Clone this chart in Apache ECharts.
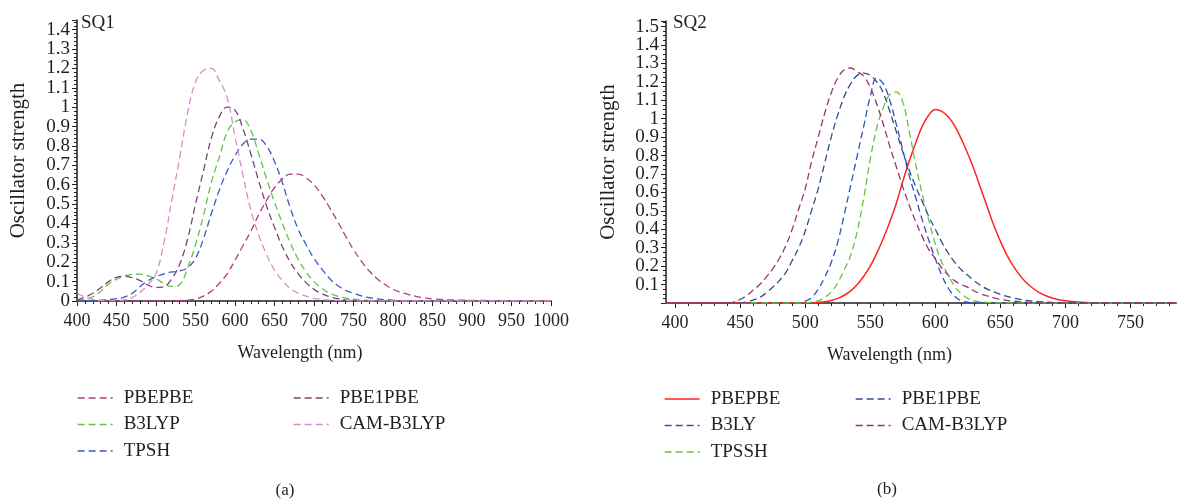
<!DOCTYPE html>
<html>
<head>
<meta charset="utf-8">
<script src="https://cdn.jsdelivr.net/npm/echarts@6/dist/echarts.min.js"></script>
<style>
html,body{margin:0;padding:0;background:#fff;}
#chartA{position:absolute;left:0;top:0;width:590px;height:500px;}
#chartB{position:absolute;left:590px;top:0;width:587px;height:500px;}
</style>
</head>
<body>
<div id="chartA"></div>
<div id="chartB"></div>
<script>
// ---------- Panel (a): SQ1 ----------
const wavelengthsA = [400,410,420,430,440,450,460,470,480,490,500,510,520,530,540,550,560,570,580,590,600,610,620,630,640,650,660,670,680,690,700,710,720,730,740,750,760,770,780,790,800,810,820,830,840,850,860,870,880,890,900,910,920,930,940,950,960,970,980,990,1000];
const pbepbeA = [0,0,0,0,0,0,0,0,0,0,0,0.001,0.001,0.002,0.004,0.01,0.025,0.05,0.09,0.14,0.21,0.285,0.36,0.445,0.52,0.585,0.63,0.655,0.655,0.635,0.6,0.545,0.48,0.41,0.335,0.265,0.205,0.155,0.115,0.085,0.06,0.045,0.033,0.023,0.016,0.011,0.008,0.006,0.005,0.004,0.003,0.003,0.002,0.002,0.002,0.001,0.001,0.001,0.001,0.001,0.001];
const pbe1pbeA = [0.005,0.02,0.04,0.068,0.1,0.122,0.127,0.12,0.105,0.082,0.07,0.074,0.115,0.19,0.32,0.5,0.67,0.84,0.95,1.0,0.985,0.89,0.76,0.62,0.49,0.38,0.28,0.2,0.14,0.095,0.06,0.038,0.022,0.012,0.006,0.003,0.001,0,0,0,0,0,0,0,0,0,0,0,0,0,0,0,0,0,0,0,0,0,0,0,0];
const b3lypA = [0.002,0.008,0.022,0.05,0.088,0.112,0.13,0.137,0.139,0.13,0.115,0.09,0.075,0.085,0.17,0.29,0.44,0.61,0.74,0.87,0.925,0.935,0.88,0.76,0.63,0.51,0.4,0.3,0.215,0.15,0.1,0.065,0.04,0.025,0.015,0.009,0.005,0.003,0.001,0,0,0,0,0,0,0,0,0,0,0,0,0,0,0,0,0,0,0,0,0,0];
const tpshA = [0,0.001,0.002,0.004,0.007,0.012,0.02,0.04,0.075,0.105,0.125,0.14,0.15,0.155,0.172,0.22,0.32,0.45,0.57,0.67,0.75,0.81,0.835,0.835,0.8,0.72,0.61,0.48,0.37,0.29,0.22,0.165,0.115,0.08,0.055,0.04,0.026,0.017,0.011,0.007,0.004,0.002,0.001,0,0,0,0,0,0,0,0,0,0,0,0,0,0,0,0,0,0];
const camb3lypA = [0.04,0.02,0.008,0.002,0.001,0.002,0.006,0.018,0.045,0.085,0.14,0.3,0.52,0.74,0.97,1.13,1.19,1.2,1.14,1.05,0.85,0.65,0.47,0.34,0.24,0.16,0.105,0.065,0.04,0.025,0.014,0.008,0.005,0.003,0.002,0.001,0,0,0,0,0,0,0,0,0,0,0,0,0,0,0,0,0,0,0,0,0,0,0,0,0];

// ---------- Panel (b): SQ2 ----------
const wavelengthsB = [390,395,400,405,410,415,420,425,430,435,440,445,450,455,460,465,470,475,480,485,490,495,500,505,510,515,520,525,530,535,540,545,550,555,560,565,570,575,580,585,590,595,600,605,610,615,620,625,630,635,640,645,650,655,660,665,670,675,680,685,690,695,700,705,710,715,720,725,730,735,740,745,750,755,760,765,770,775,780,785,790];
const pbepbeB = [0,0,0,0,0,0,0,0,0,0,0,0,0,0,0,0,0,0,0,0,0,0,0,0,0.003,0.007,0.014,0.025,0.042,0.066,0.1,0.145,0.2,0.27,0.35,0.44,0.54,0.66,0.77,0.87,0.96,1.02,1.05,1.04,1.01,0.96,0.89,0.81,0.72,0.62,0.52,0.42,0.335,0.26,0.2,0.15,0.11,0.08,0.056,0.039,0.027,0.018,0.012,0.008,0.005,0.003,0.002,0,0,0,0,0,0,0,0,0,0,0,0,0,0];
const pbe1pbeB = [0,0,0,0,0,0,0,0,0,0,0,0,0,0.005,0.016,0.03,0.055,0.085,0.12,0.165,0.23,0.3,0.39,0.505,0.62,0.76,0.9,1.02,1.12,1.19,1.235,1.247,1.235,1.2,1.14,1.04,0.93,0.82,0.72,0.63,0.55,0.47,0.4,0.33,0.27,0.22,0.18,0.15,0.12,0.095,0.075,0.06,0.047,0.036,0.027,0.02,0.014,0.01,0.007,0.005,0.003,0.002,0.001,0,0,0,0,0,0,0,0,0,0,0,0,0,0,0,0,0,0];
const b3lyB = [0,0,0,0,0,0,0,0,0,0,0,0,0,0,0,0,0,0,0,0,0,0,0.01,0.03,0.075,0.14,0.22,0.33,0.48,0.64,0.8,0.96,1.12,1.22,1.19,1.1,0.97,0.83,0.69,0.57,0.45,0.34,0.24,0.15,0.08,0.035,0.012,0.004,0,0,0,0,0,0,0,0,0,0,0,0,0,0,0,0,0,0,0,0,0,0,0,0,0,0,0,0,0,0,0,0,0];
const tpsshB = [0,0,0,0,0,0,0,0,0,0,0,0,0,0,0,0,0,0,0,0,0,0,0,0.005,0.012,0.03,0.06,0.11,0.18,0.26,0.39,0.57,0.78,0.95,1.06,1.13,1.145,1.09,0.93,0.75,0.59,0.45,0.32,0.22,0.15,0.09,0.05,0.025,0.012,0.006,0.003,0,0,0,0,0,0,0,0,0,0,0,0,0,0,0,0,0,0,0,0,0,0,0,0,0,0,0,0,0,0];
const camb3lypB = [0,0,0,0,0,0,0,0,0,0,0,0.005,0.02,0.04,0.07,0.1,0.14,0.185,0.24,0.31,0.4,0.51,0.62,0.77,0.9,1.03,1.14,1.22,1.265,1.275,1.255,1.23,1.17,1.08,0.97,0.85,0.74,0.63,0.53,0.44,0.36,0.29,0.24,0.19,0.15,0.12,0.1,0.085,0.065,0.05,0.038,0.028,0.02,0.014,0.01,0.007,0.005,0.003,0,0,0,0,0,0,0,0,0,0,0,0,0,0,0,0,0,0,0,0,0,0,0];

const xTicksB = [400,450,500,550,600,650,700,750];
const xMinorB = [400,410,420,430,440,450,460,470,480,490,500,510,520,530,540,550,560,570,580,590,600,610,620,630,640,650,660,670,680,690,700,710,720,730,740,750,760,770,780];

// ---------- styling helpers ----------
const serif = "'Liberation Serif', 'DejaVu Serif', serif";
const ink = '#231f20';
const dash = [7, 4];

function line(name, xs, ys, color, dashed, width) {
  return {
    name: name, type: 'line', symbol: 'none',
    smooth: 0.4, clip: true, animation: false,
    data: xs.map(function (x, i) { return [x, ys[i]]; }),
    lineStyle: { color: color, width: width || 1.3, type: dashed ? dash : 'solid' },
    itemStyle: { color: color },
    emphasis: { disabled: true }
  };
}
function legendCol(names, left, top) {
  return {
    data: names, orient: 'vertical', left: left, top: top, padding: 0,
    itemWidth: 35, itemHeight: 12, itemGap: 6.5, selectedMode: false,
    itemStyle: { opacity: 0, borderWidth: 0 },
    lineStyle: { width: 1.3 },
    textStyle: { fontFamily: serif, fontSize: 19, color: ink, lineHeight: 20, padding: [0, 0, 0, 6] }
  };
}
const axisLineStyle = { color: ink, width: 1.5 };
const fmt = function (v) { return String(Math.round(v * 10) / 10); };
function yAxisCfg(max, minorSplit, showMin, nameGap) {
  return {
    type: 'value', min: 0, max: max, interval: 0.1,
    name: 'Oscillator strength', nameLocation: 'middle', nameGap: nameGap,
    nameTextStyle: { fontFamily: serif, fontSize: 21, color: ink },
    axisLine: { show: true, lineStyle: axisLineStyle },
    axisTick: { show: true, length: 5, lineStyle: { color: ink } },
    minorTick: { show: true, splitNumber: minorSplit, length: 3, lineStyle: { color: ink } },
    splitLine: { show: false }, minorSplitLine: { show: false },
    axisLabel: { fontFamily: serif, fontSize: 19, color: ink, margin: 7, formatter: fmt,
                 showMinLabel: showMin, showMaxLabel: false }
  };
}

// ---------- chart (a) ----------
const chartA = echarts.init(document.getElementById('chartA'), null, { renderer: 'canvas' });
chartA.setOption({
  animation: false,
  title: { text: 'SQ1', left: 81, top: 14, padding: 0,
           textStyle: { fontFamily: serif, fontSize: 19, fontWeight: 'normal', color: ink } },
  grid: { left: 77, top: 20, width: 474, height: 281 },
  xAxis: {
    type: 'value', min: 400, max: 1000, interval: 50,
    name: 'Wavelength (nm)', nameLocation: 'middle', nameGap: 43,
    nameTextStyle: { fontFamily: serif, fontSize: 18, color: ink, padding: [0, 28, 0, 0] },
    axisLine: { lineStyle: axisLineStyle },
    axisTick: { length: 5, lineStyle: { color: ink } },
    minorTick: { show: true, splitNumber: 5, length: 3, lineStyle: { color: ink } },
    splitLine: { show: false },
    axisLabel: { fontFamily: serif, fontSize: 18, color: ink, margin: 11,
                 formatter: function (v) { return String(v); } }
  },
  yAxis: yAxisCfg(1.45, 5, true, 48),
  legend: [legendCol(['PBEPBE', 'B3LYP', 'TPSH'], 77, 388),
           legendCol(['PBE1PBE', 'CAM-B3LYP'], 293, 388)],
  graphic: [{ type: 'text', x: 285, y: 491,
              style: { text: '(a)', align: 'center', verticalAlign: 'middle', fontSize: 17, fontFamily: serif, fill: ink } }],
  series: [
    line('PBEPBE', wavelengthsA, pbepbeA, '#b13d83', true),
    line('B3LYP', wavelengthsA, b3lypA, '#62c446', true),
    line('TPSH', wavelengthsA, tpshA, '#3a5bc2', true),
    line('PBE1PBE', wavelengthsA, pbe1pbeA, '#7b4470', true),
    line('CAM-B3LYP', wavelengthsA, camb3lypA, '#d98ccb', true)
  ]
});

// ---------- chart (b) ----------
const chartB = echarts.init(document.getElementById('chartB'), null, { renderer: 'canvas' });
chartB.setOption({
  animation: false,
  title: { text: 'SQ2', left: 83, top: 14, padding: 0,
           textStyle: { fontFamily: serif, fontSize: 19, fontWeight: 'normal', color: ink } },
  grid: { left: 73, top: 21, width: 513, height: 282 },
  xAxis: [{
    type: 'value', min: 393, max: 785, position: 'bottom',
    name: 'Wavelength (nm)', nameLocation: 'middle', nameGap: 43,
    nameTextStyle: { fontFamily: serif, fontSize: 18, color: ink, padding: [0, 63, 0, 0] },
    axisLine: { lineStyle: axisLineStyle },
    axisTick: { length: 5, customValues: xTicksB, lineStyle: { color: ink } },
    splitLine: { show: false },
    axisLabel: { fontFamily: serif, fontSize: 18, color: ink, margin: 11, customValues: xTicksB }
  }, {
    type: 'value', min: 393, max: 785, position: 'bottom', offset: 0,
    axisLine: { show: false },
    axisTick: { length: 3, customValues: xMinorB, lineStyle: { color: ink } },
    axisLabel: { show: false }, splitLine: { show: false }
  }],
  yAxis: yAxisCfg(1.53, 4, false, 47),
  legend: [legendCol(['PBEPBE', 'B3LY', 'TPSSH'], 74, 389),
           legendCol(['PBE1PBE', 'CAM-B3LYP'], 265, 389)],
  graphic: [{ type: 'text', x: 297, y: 490,
              style: { text: '(b)', align: 'center', verticalAlign: 'middle', fontSize: 17, fontFamily: serif, fill: ink } }],
  series: [
    line('PBEPBE', wavelengthsB, pbepbeB, '#ff2424', false, 1.5),
    line('B3LY', wavelengthsB, b3lyB, '#2f50c0', true),
    line('TPSSH', wavelengthsB, tpsshB, '#68c244', true),
    line('PBE1PBE', wavelengthsB, pbe1pbeB, '#2f4f8f', true),
    line('CAM-B3LYP', wavelengthsB, camb3lypB, '#9b3469', true)
  ]
});
</script>
</body>
</html>
